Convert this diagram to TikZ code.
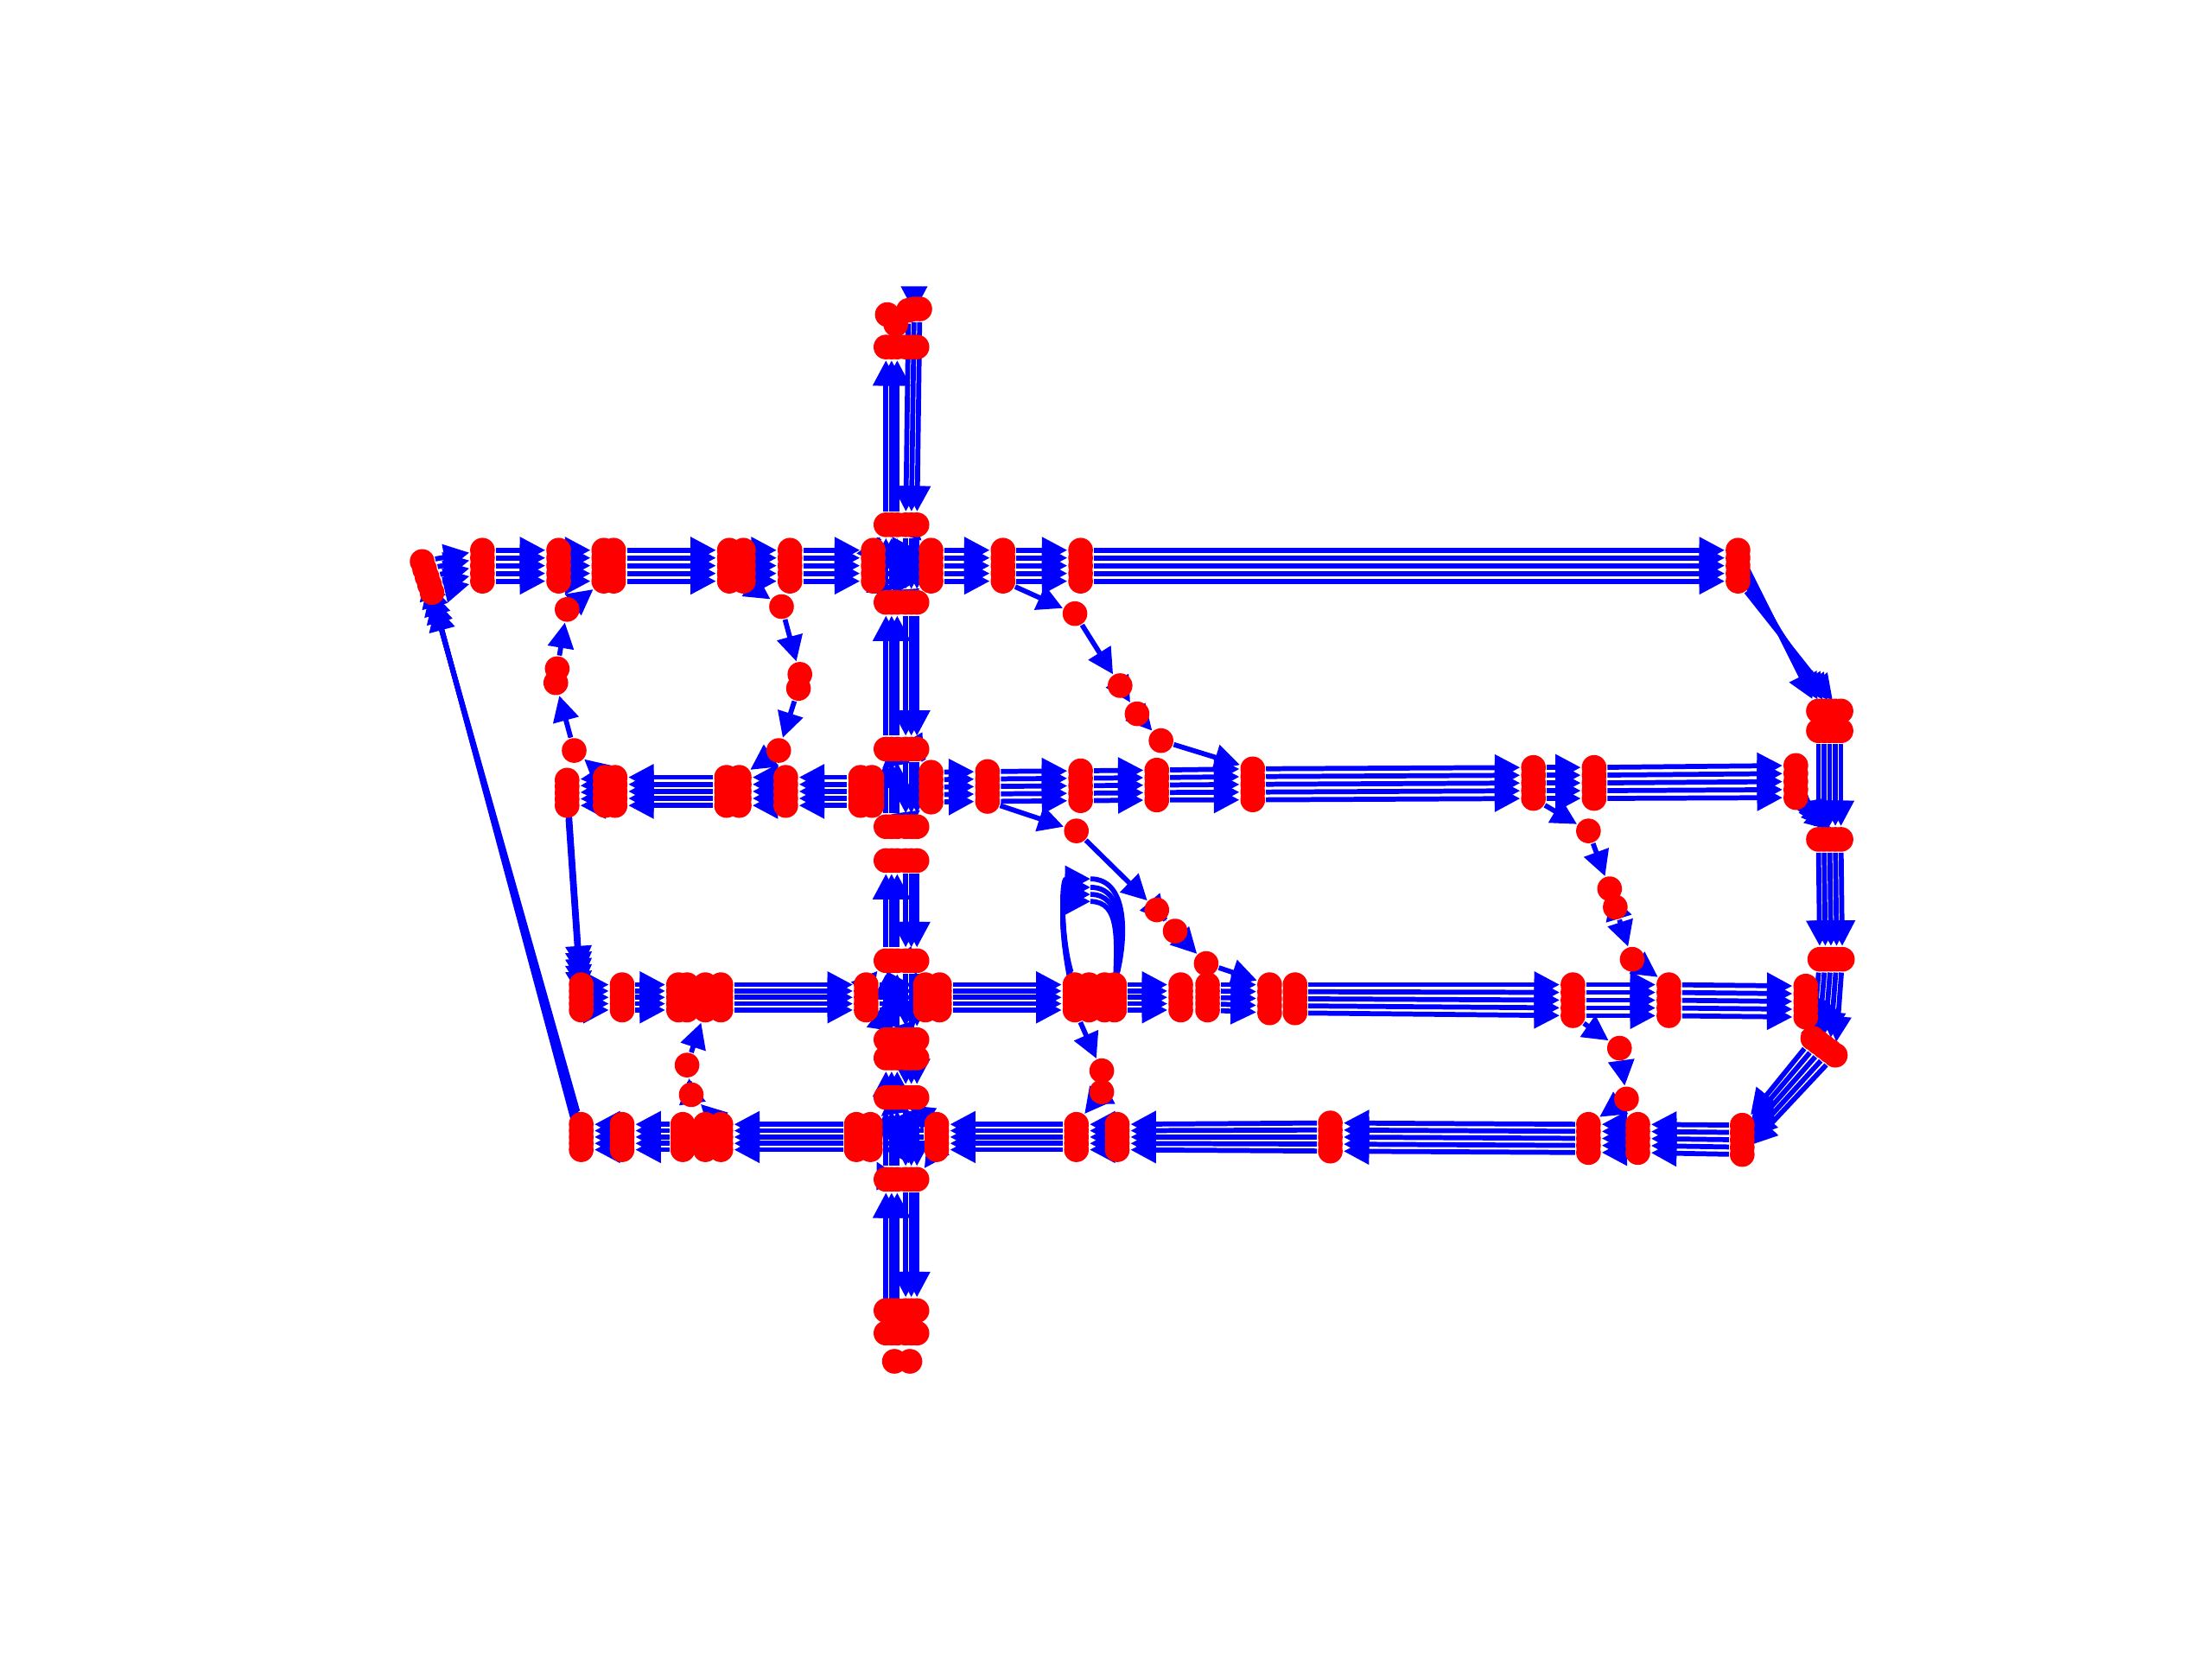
\documentclass[tikz,border=0pt]{standalone}
\usetikzlibrary{arrows.meta}
\pgfdeclarelayer{edges}
\pgfsetlayers{edges,main}
\newcommand{\hcars}[4]{\foreach \k in {1,...,5}{\node[car] (#1-\k) at (#2,{#3+(\k-3)*#4}) {};}}
\newcommand{\rcars}[3]{\foreach \k in {1,...,5}{\node[car] (#1-\k) at ({#2+4*(\k-1)},#3) {};}}
\newcommand{\vcars}[2]{\foreach \k in {1,2,3}{\node[car] (#1-u\k) at ({624+4*\k},#2) {};\node[car] (#1-d\k) at ({638+4*\k},#2) {};}}
\newcommand{\hlanes}[2]{\foreach \k in {1,...,5}{\draw[lane] (#1-\k) -- (#2-\k);}}
\newcommand{\uplanes}[2]{\foreach \k in {1,2,3}{\draw[lane] (#1-u\k) -- (#2-u\k);}}
\newcommand{\downlanes}[2]{\foreach \k in {1,2,3}{\draw[lane] (#1-d\k) -- (#2-d\k);}}
\begin{document}
\begin{tikzpicture}[x=0.01cm, y=-0.01cm,
  car/.style={circle, fill=red, inner sep=0pt, minimum size=0.175cm},
  lane/.style={blue, line width=1pt, -{Triangle[length=0.18cm, width=0.18cm]}},
  bare/.style={blue, line width=1pt}]
\useasboundingbox (0,0) rectangle (1568,1176);
\foreach \k in {1,...,5}{\node[car] (T0-\k) at ({297.5+1.75*\k},{392.5+5.5*\k}) {};}
\hcars{T1}{342}{401}{5.5}
\hcars{T2}{396}{401}{5.5}
\hcars{T3}{428}{401}{5.5}
\hcars{T3b}{435}{401}{5.5}
\hcars{T4}{517}{401}{5.5}
\hcars{T4b}{527}{401}{5.5}
\hcars{T5}{560}{401}{5.5}
\hcars{T6}{619}{401}{5.5}
\hcars{T7}{660}{401}{5.5}
\hcars{T8}{711}{401}{5.5}
\hcars{T9}{766}{401}{5.5}
\hcars{T10}{1232}{401}{5.5}
\hcars{SL1}{402}{562}{4.5}
\hcars{SL2b}{429}{561}{5}
\hcars{SL2}{436}{561}{5}
\hcars{SL3b}{515}{561}{5}
\hcars{SL3}{524}{561}{5}
\hcars{SL4}{557}{561}{5}
\hcars{SL5b}{610}{561}{5}
\hcars{SL5}{618}{561}{5}
\hcars{SR1}{660}{558}{5.3}
\hcars{SR2}{700}{557.5}{5.3}
\hcars{SR3}{766}{557}{5.3}
\hcars{SR4}{820}{556.5}{5.3}
\hcars{SR5}{888}{556}{5.5}
\hcars{SR6}{1087}{555}{5.5}
\hcars{SR7}{1130}{555}{5.5}
\hcars{SR8}{1273}{554}{5.7}
\hcars{Th1}{412}{707}{4.5}
\hcars{Th2}{441}{707}{4.5}
\hcars{Th3a}{481}{707}{4.5}
\hcars{Th3b}{487}{707}{4.5}
\hcars{Th3c}{500}{707}{4.5}
\hcars{Th3d}{511}{707}{4.5}
\hcars{Th4}{614}{707}{4.5}
\hcars{Th5a}{656}{707}{4.5}
\hcars{Th5}{666}{707}{4.5}
\hcars{Th6a}{762}{707}{4.5}
\hcars{Th6b}{772}{707}{4.5}
\hcars{Th6c}{783}{707}{4.5}
\hcars{Th6d}{790}{707}{4.5}
\hcars{Th7}{837}{707}{4.5}
\hcars{Th8}{856}{707}{4.5}
\hcars{Th9}{900}{708}{5}
\hcars{Th10}{918}{708}{5}
\hcars{Th11}{1115}{709}{5.5}
\hcars{Th12}{1183}{709}{5.5}
\hcars{Th13}{1280}{710}{5.5}
\hcars{B0}{1235}{808}{5.2}
\hcars{B1}{1161}{807}{5}
\hcars{B2}{1126}{807}{5}
\hcars{B3}{943}{806}{5}
\hcars{B4}{792}{806}{4.5}
\hcars{B5}{763}{806}{4.5}
\hcars{B6}{664}{806}{4.5}
\hcars{B7}{617}{806}{4.5}
\hcars{B7b}{607}{806}{4.5}
\hcars{B8}{511}{806}{4.5}
\hcars{B8b}{500}{806}{4.5}
\hcars{B9}{484}{806}{4.5}
\hcars{B10}{441}{806}{4.5}
\hcars{B11}{412}{806}{4.5}
\rcars{R1a}{1289}{504}
\rcars{R1b}{1289}{518}
\rcars{R2}{1289}{595}
\rcars{R3}{1290}{680}
\foreach \k in {1,...,5}{\node[car] (R4-\k) at ({1281+4*\k},{733+3*\k}) {};}
\node[car] (Vt-u1) at (629,223) {};
\node[car] (Vt-u2) at (635,230) {};
\node[car] (Vt-d1) at (644,220) {};
\node[car] (Vt-d2) at (648,219) {};
\node[car] (Vt-d3) at (652,219) {};
\vcars{V246}{246}
\vcars{V372}{372}
\vcars{V427}{427}
\vcars{V530}{531}
\vcars{V585}{586}
\vcars{V608}{610}
\vcars{V680}{681}
\vcars{V737}{737}
\vcars{V750}{750}
\vcars{V778}{778}
\vcars{V836}{836}
\vcars{VB1}{929}
\vcars{VB2}{945}
\node[car] (VB3a) at (634,965) {};
\node[car] (VB3b) at (645,965) {};
\node[car] (L1) at (407,532) {};
\node[car] (L2) at (394,484) {};
\node[car] (L2b) at (395,474) {};
\node[car] (L3) at (402,432) {};
\node[car] (K1) at (554,430) {};
\node[car] (K2) at (567,478) {};
\node[car] (K2b) at (566,488) {};
\node[car] (K3) at (552,532) {};
\node[car] (M1a) at (762,435) {};
\node[car] (M1b) at (794,486) {};
\node[car] (M1c) at (806,506) {};
\node[car] (M1d) at (823,525) {};
\node[car] (M2a) at (763,589) {};
\node[car] (M2b) at (820,645) {};
\node[car] (M2c) at (833,660) {};
\node[car] (M2d) at (855,683) {};
\node[car] (M3a) at (1126,589) {};
\node[car] (M3b) at (1141,630) {};
\node[car] (M3c) at (1145,643) {};
\node[car] (M3d) at (1157,680) {};
\node[car] (M4a) at (1148,743) {};
\node[car] (M4b) at (1153,779) {};
\node[car] (M5a) at (487,755) {};
\node[car] (M5b) at (490,776) {};
\node[car] (M6a) at (781,759) {};
\node[car] (M6b) at (781,774) {};
\coordinate (Vtop) at (648,203.5);
\coordinate (Vtip) at (648,221);
\begin{pgfonlayer}{edges}
\hlanes{T0}{T1}
\hlanes{T1}{T2}
\hlanes{T2}{T3}
\hlanes{T3b}{T4}
\hlanes{T4b}{T5}
\hlanes{T5}{T6}
\hlanes{T6}{T7}
\hlanes{T7}{T8}
\hlanes{T8}{T9}
\hlanes{T9}{T10}
\hlanes{T10}{R1a}
\hlanes{R1b}{R2}
\hlanes{SR8}{R2}
\hlanes{R2}{R3}
\hlanes{R3}{R4}
\hlanes{Th13}{R4}
\hlanes{R4}{B0}
\hlanes{SL5b}{SL4}
\hlanes{SL4}{SL3}
\hlanes{SL3b}{SL2}
\hlanes{SL2b}{SL1}
\hlanes{SL1}{Th1}
\hlanes{SR1}{SR2}
\hlanes{SR2}{SR3}
\hlanes{SR3}{SR4}
\hlanes{SR4}{SR5}
\hlanes{SR5}{SR6}
\hlanes{SR6}{SR7}
\hlanes{SR7}{SR8}
\hlanes{Th1}{Th2}
\hlanes{Th2}{Th3a}
\hlanes{Th3d}{Th4}
\hlanes{Th4}{Th5a}
\hlanes{Th5}{Th6a}
\hlanes{Th6d}{Th7}
\hlanes{Th8}{Th9}
\hlanes{Th10}{Th11}
\hlanes{Th11}{Th12}
\hlanes{Th12}{Th13}
\hlanes{B0}{B1}
\hlanes{B1}{B2}
\hlanes{B2}{B3}
\hlanes{B3}{B4}
\hlanes{B4}{B5}
\hlanes{B5}{B6}
\hlanes{B6}{B7}
\hlanes{B7b}{B8}
\hlanes{B9}{B10}
\hlanes{B10}{B11}
\hlanes{B11}{T0}
\draw[lane] (Vtop) -- (Vtip);
\downlanes{Vt}{V372}
\uplanes{V372}{V246}
\uplanes{V427}{V372}
\downlanes{V372}{V427}
\uplanes{V530}{V427}
\downlanes{V427}{V530}
\uplanes{V585}{V530}
\downlanes{V530}{V585}
\uplanes{V680}{V608}
\downlanes{V608}{V680}
\uplanes{V737}{V680}
\downlanes{V680}{V737}
\uplanes{V778}{V750}
\downlanes{V750}{V778}
\uplanes{V836}{V778}
\downlanes{V778}{V836}
\uplanes{VB2}{V836}
\downlanes{V836}{VB1}
\draw[lane] (T6-5) -- (V427-d1);
\draw[lane] (V427-u3) -- (T7-5);
\draw[lane] (V372-d1) -- (T7-1);
\draw[lane] (T6-1) -- (V372-u1);
\draw[lane] (V530-d1) -- (SL5-1);
\draw[lane] (V585-u1) -- (SL5-5);
\draw[lane] (V530-d3) -- (SR1-1);
\draw[lane] (V585-u3) -- (SR1-5);
\draw[lane] (Th4-5) -- (V737-d1);
\draw[lane] (V737-u3) -- (Th5a-5);
\draw[lane] (V680-d1) -- (Th5a-1);
\draw[lane] (Th4-1) -- (V680-u1);
\draw[lane] (B6-5) -- (V836-d3);
\draw[lane] (V778-d1) -- (B7-1);
\draw[lane] (B6-1) -- (V778-u3);
\draw[lane] (V836-u1) -- (B7-5);
\draw[lane] (SL2b-1) -- (L1);
\draw[lane] (L1) -- (L2);
\draw[lane] (L2b) -- (L3);
\draw[lane] (L3) -- (T3-5);
\draw[lane] (T4b-5) -- (K1);
\draw[lane] (K1) -- (K2);
\draw[lane] (K2b) -- (K3);
\draw[lane] (K3) -- (SL3-1);
\draw[lane] (T8-5) -- (M1a);
\draw[lane] (M1a) -- (M1b);
\draw[lane] (M1b) -- (M1c);
\draw[lane] (M1c) -- (M1d);
\draw[lane] (M1d) -- (SR5-1);
\draw[lane] (SR2-5) -- (M2a);
\draw[lane] (M2a) -- (M2b);
\draw[lane] (M2b) -- (M2c);
\draw[lane] (M2c) -- (M2d);
\draw[lane] (M2d) -- (Th9-1);
\draw[lane] (SR6-5) -- (M3a);
\draw[lane] (M3a) -- (M3b);
\draw[lane] (M3b) -- (M3c);
\draw[lane] (M3c) -- (M3d);
\draw[lane] (M3d) -- (Th12-1);
\draw[lane] (Th11-5) -- (M4a);
\draw[lane] (M4a) -- (M4b);
\draw[lane] (M4b) -- (B2-1);
\draw[lane] (B8-1) -- (M5b);
\draw[lane] (M5b) -- (M5a);
\draw[lane] (M5a) -- (Th3c-5);
\draw[lane] (Th6a-5) -- (M6a);
\draw[lane] (M6a) -- (M6b);
\draw[lane] (M6b) -- (B5-1);
\foreach \k/\t in {1/623, 2/629, 3/634, 4/639}{
  \coordinate (Loop\k) at (773,\t);
  \draw[lane] (Th6a-\k) .. controls (752,665) and (752,\t) .. (Loop\k);
  \draw[bare] (Loop\k) .. controls ({802-2*\k},\t) and ({800-2*\k},665) .. (Th6d-\k);
}
\end{pgfonlayer}
\end{tikzpicture}
\end{document}
